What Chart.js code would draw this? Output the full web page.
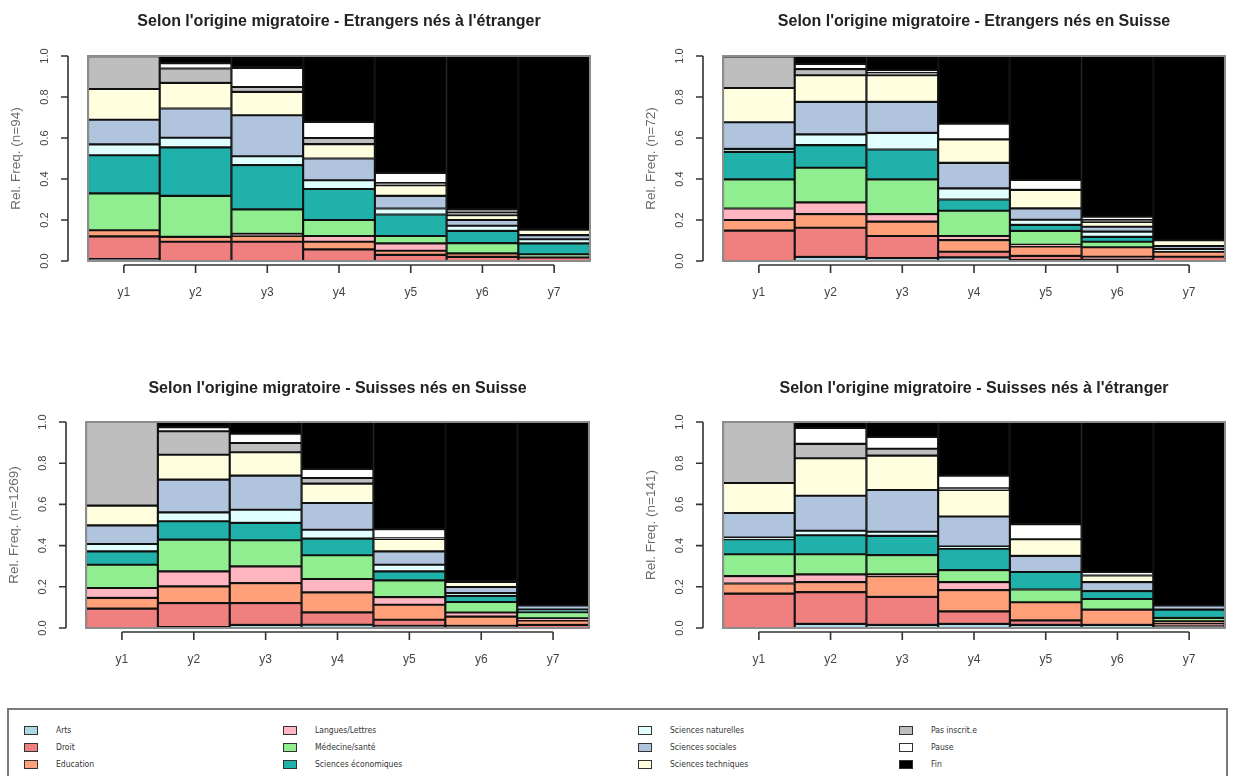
<!DOCTYPE html>
<html>
<head>
<meta charset="utf-8">
<script src="https://cdn.jsdelivr.net/npm/chart.js@4/dist/chart.umd.min.js"></script>
<style>
  body { margin: 0; background: #fff; width: 1237px; height: 776px; overflow: hidden; position: relative; font-family: "Liberation Sans", Arial, sans-serif; }
  canvas { position: absolute; }
  #legend { position: absolute; left: 7px; top: 708px; width: 1221px; height: 80px; border: 2px solid #7a7a7a; box-sizing: border-box; }
  .item { position: absolute; height: 12px; font-family: "Liberation Sans Narrow", "DejaVu Sans", sans-serif; font-stretch: condensed; font-size: 8.5px; color: #333; white-space: nowrap; }
  .item span.sw { position: absolute; left: 0; top: 1px; width: 12px; height: 7px; border: 1.5px solid #333; }
  .item span.tx { position: absolute; left: 32px; top: 0px; }
</style>
</head>
<body>
<canvas id="c1" width="618" height="330" style="left:0;top:0"></canvas>
<canvas id="c2" width="619" height="330" style="left:618px;top:0"></canvas>
<canvas id="c3" width="618" height="333" style="left:0;top:367px"></canvas>
<canvas id="c4" width="619" height="333" style="left:618px;top:367px"></canvas>
<div id="legend"></div>
<script>
// Define global variables so eslint shuts up
/* global document, Chart */

let years = ['y1', 'y2', 'y3', 'y4', 'y5', 'y6', 'y7'];
let yTicks = [0, 0.2, 0.4, 0.6, 0.8, 1.0];
let yTickLabels = ['0.0', '0.2', '0.4', '0.6', '0.8', '1.0'];

let categories = ['Arts', 'Droit', 'Education', 'Langues/Lettres', 'Médecine/santé', 'Sciences économiques',
    'Sciences naturelles', 'Sciences sociales', 'Sciences techniques', 'Pas inscrit.e', 'Pause', 'Fin'];
let colors = ['#add8e6', '#f08080', '#ffa07a', '#ffb6c1', '#90ee90', '#20b2aa',
    '#e0ffff', '#b0c4de', '#ffffe0', '#bebebe', '#ffffff', '#000000'];

// rows follow the categories order, columns y1..y7
let etrangersNesEtranger = [
    [0.01, 0, 0, 0, 0, 0, 0],
    [0.11, 0.094, 0.094, 0.057, 0.03, 0.02, 0.018],
    [0.03, 0.024, 0.028, 0.037, 0.02, 0.017, 0],
    [0, 0, 0.01, 0.028, 0.036, 0, 0],
    [0.18, 0.2, 0.12, 0.078, 0.036, 0.05, 0.014],
    [0.186, 0.236, 0.216, 0.151, 0.105, 0.06, 0.054],
    [0.053, 0.047, 0.043, 0.043, 0.029, 0.025, 0.02],
    [0.12, 0.143, 0.2, 0.106, 0.062, 0.028, 0.02],
    [0.15, 0.125, 0.114, 0.07, 0.052, 0.024, 0.027],
    [0.16, 0.07, 0.024, 0.03, 0.01, 0.012, 0],
    [0, 0.026, 0.093, 0.079, 0.05, 0.016, 0],
    [0, 0.035, 0.058, 0.321, 0.57, 0.748, 0.847]
];

let etrangersNesSuisse = [
    [0, 0.02, 0.014, 0.018, 0.005, 0.007, 0],
    [0.148, 0.142, 0.108, 0.027, 0.02, 0.014, 0.021],
    [0.052, 0.067, 0.07, 0.057, 0.046, 0.046, 0.024],
    [0.056, 0.057, 0.037, 0.02, 0.008, 0, 0],
    [0.142, 0.169, 0.169, 0.123, 0.068, 0.027, 0],
    [0.134, 0.11, 0.146, 0.055, 0.029, 0.024, 0],
    [0.015, 0.053, 0.081, 0.054, 0.025, 0.025, 0.014],
    [0.13, 0.158, 0.151, 0.125, 0.056, 0.024, 0.014],
    [0.167, 0.13, 0.13, 0.114, 0.09, 0.023, 0.028],
    [0.154, 0.03, 0.014, 0, 0, 0.01, 0],
    [0, 0.025, 0.01, 0.077, 0.048, 0.016, 0],
    [0, 0.039, 0.07, 0.33, 0.605, 0.784, 0.899]
];

let suissesNesSuisse = [
    [0, 0.005, 0.015, 0.016, 0.01, 0, 0],
    [0.094, 0.116, 0.106, 0.06, 0.03, 0.01, 0.015],
    [0.052, 0.081, 0.097, 0.097, 0.073, 0.045, 0.022],
    [0.048, 0.073, 0.081, 0.065, 0.037, 0.02, 0.01],
    [0.113, 0.154, 0.127, 0.115, 0.081, 0.051, 0.03],
    [0.065, 0.089, 0.084, 0.081, 0.044, 0.03, 0.012],
    [0.036, 0.043, 0.064, 0.043, 0.032, 0.014, 0],
    [0.09, 0.159, 0.166, 0.13, 0.065, 0.029, 0.02],
    [0.096, 0.121, 0.113, 0.094, 0.06, 0.025, 0],
    [0.406, 0.114, 0.045, 0.027, 0.003, 0, 0],
    [0, 0.02, 0.045, 0.044, 0.045, 0, 0],
    [0, 0.025, 0.057, 0.228, 0.52, 0.776, 0.891]
];

let suissesNesEtranger = [
    [0, 0.02, 0.015, 0.02, 0.015, 0.015, 0.01],
    [0.167, 0.154, 0.136, 0.061, 0.022, 0, 0.01],
    [0.049, 0.049, 0.101, 0.103, 0.088, 0.074, 0.013],
    [0.036, 0.037, 0.008, 0.039, 0, 0, 0],
    [0.106, 0.098, 0.094, 0.058, 0.062, 0.052, 0.016],
    [0.073, 0.092, 0.093, 0.104, 0.085, 0.038, 0.04],
    [0.008, 0.022, 0.02, 0.01, 0, 0, 0],
    [0.119, 0.17, 0.203, 0.146, 0.078, 0.044, 0.02],
    [0.146, 0.182, 0.167, 0.129, 0.081, 0.032, 0],
    [0.296, 0.07, 0.033, 0.008, 0, 0, 0],
    [0, 0.077, 0.057, 0.062, 0.073, 0.017, 0],
    [0, 0.029, 0.073, 0.26, 0.496, 0.728, 0.891]
];

// draws the R-style detached axes, box and title
let rAxes = {
    id: 'rAxes',
    afterDraw(chart, args, opts) {
        let ctx = chart.ctx;
        let area = chart.chartArea;
        let xs = chart.scales.x;
        let ys = chart.scales.y;
        ctx.save();

        ctx.strokeStyle = '#8c8c8c';
        ctx.lineWidth = 2;
        ctx.strokeRect(area.left, area.top, area.right - area.left, area.bottom - area.top);

        ctx.strokeStyle = '#333';
        ctx.lineWidth = 1.6;
        let ax = area.left - 20;
        ctx.beginPath();
        ctx.moveTo(ax, ys.getPixelForValue(0));
        ctx.lineTo(ax, ys.getPixelForValue(1));
        yTicks.forEach(t => {
            ctx.moveTo(ax, ys.getPixelForValue(t));
            ctx.lineTo(ax - 7, ys.getPixelForValue(t));
        });
        let ay = area.bottom + 4;
        ctx.moveTo(xs.getPixelForValue(0), ay);
        ctx.lineTo(xs.getPixelForValue(years.length - 1), ay);
        years.forEach((y, i) => {
            ctx.moveTo(xs.getPixelForValue(i), ay);
            ctx.lineTo(xs.getPixelForValue(i), ay + 8);
        });
        ctx.stroke();

        ctx.fillStyle = '#444';
        ctx.textAlign = 'center';
        ctx.textBaseline = 'middle';
        ctx.font = '12px "Liberation Sans", Arial, sans-serif';
        years.forEach((y, i) => {
            ctx.fillText(y, xs.getPixelForValue(i), area.bottom + 32);
        });

        ctx.font = '11px "Liberation Sans", Arial, sans-serif';
        yTicks.forEach((t, i) => {
            ctx.save();
            ctx.translate(area.left - 43, ys.getPixelForValue(t));
            ctx.rotate(-Math.PI / 2);
            ctx.fillText(yTickLabels[i], 0, 0);
            ctx.restore();
        });

        ctx.save();
        ctx.fillStyle = '#6a6a6a';
        ctx.font = '13.5px "Liberation Sans", Arial, sans-serif';
        ctx.translate(area.left - 72, (area.top + area.bottom) / 2);
        ctx.rotate(-Math.PI / 2);
        ctx.fillText(opts.yTitle, 0, 0);
        ctx.restore();

        ctx.fillStyle = '#222';
        ctx.font = 'bold 16px "Liberation Sans", Arial, sans-serif';
        ctx.fillText(opts.title, (area.left + area.right) / 2, 22);
        ctx.restore();
    }
};

function makeChart(id, rows, title, yTitle, padding) {
    let datasets = categories.map((cat, i) => ({
        label: cat,
        data: rows[i],
        backgroundColor: colors[i],
        borderColor: '#111',
        borderWidth: 1.4,
        borderSkipped: false,
        barPercentage: 1,
        categoryPercentage: 1
    }));
    return new Chart(document.getElementById(id), {
        type: 'bar',
        data: { labels: years, datasets: datasets },
        options: {
            responsive: false,
            animation: false,
            layout: { padding: padding },
            scales: {
                x: { stacked: true, display: false },
                y: { stacked: true, display: false, min: 0, max: 1 }
            },
            plugins: {
                legend: { display: false },
                tooltip: { enabled: false },
                rAxes: { title: title, yTitle: yTitle }
            }
        },
        plugins: [rAxes]
    });
}

makeChart('c1', etrangersNesEtranger, "Selon l'origine migratoire - Etrangers nés à l'étranger", 'Rel. Freq. (n=94)',
    { left: 88, right: 28, top: 56, bottom: 69 });
makeChart('c2', etrangersNesSuisse, "Selon l'origine migratoire - Etrangers nés en Suisse", 'Rel. Freq. (n=72)',
    { left: 105, right: 12, top: 56, bottom: 69 });
makeChart('c3', suissesNesSuisse, "Selon l'origine migratoire - Suisses nés en Suisse", 'Rel. Freq. (n=1269)',
    { left: 86, right: 29, top: 55, bottom: 72 });
makeChart('c4', suissesNesEtranger, "Selon l'origine migratoire - Suisses nés à l'étranger", 'Rel. Freq. (n=141)',
    { left: 105, right: 12, top: 55, bottom: 72 });

// legend, 4 columns of 3
let legend = document.getElementById('legend');
let colX = [15, 274, 629, 890];
let rowY = [15, 32, 49];
categories.forEach((cat, i) => {
    let item = document.createElement('div');
    item.className = 'item';
    item.style.left = colX[Math.floor(i / 3)] + 'px';
    item.style.top = rowY[i % 3] + 'px';
    item.innerHTML = '<span class="sw" style="background:' + colors[i] + '"></span><span class="tx">' + cat + '</span>';
    legend.appendChild(item);
});
</script>
</body>
</html>
